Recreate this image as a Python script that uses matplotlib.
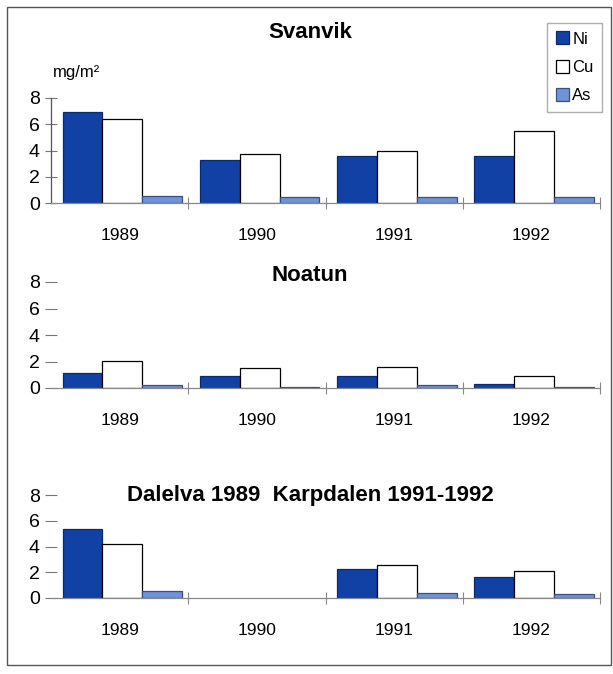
import numpy as np
import matplotlib
matplotlib.use("Agg")
import matplotlib.pyplot as plt
from matplotlib.patches import Patch, Rectangle

plt.rcParams['font.family'] = ['Liberation Sans', 'DejaVu Sans']

# ------------------------------- DATA ---------------------------------------
years = ['1989', '1990', '1991', '1992']

svanvik_ni = [6.9, 3.25, 3.6, 3.6]
svanvik_cu = [6.4, 3.7, 4.0, 5.45]
svanvik_as = [0.55, 0.45, 0.45, 0.45]

noatun_ni = [1.15, 0.9, 0.9, 0.3]
noatun_cu = [2.05, 1.5, 1.6, 0.9]
noatun_as = [0.25, 0.1, 0.2, 0.1]

# Dalelva 1989, Karpdalen 1991-1992 (no data for 1990)
karp_ni = [5.35, np.nan, 2.25, 1.6]
karp_cu = [4.2, np.nan, 2.55, 2.1]
karp_as = [0.55, np.nan, 0.35, 0.3]

titles = ['Svanvik', 'Noatun', 'Dalelva 1989  Karpdalen 1991-1992']
series = ['Ni', 'Cu', 'As']

# ------------------------------- STYLE --------------------------------------
NI_COLOR = '#1241a6'
CU_COLOR = 'white'
AS_COLOR = '#6f93d8'
colors = [NI_COLOR, CU_COLOR, AS_COLOR]
edges = ['#0a2a70', 'black', '#3a4f80']

W, H = 613, 674
fig = plt.figure(figsize=(W / 100, H / 100), dpi=100)

# panel rects in pixels: (y of zero line, y of 8 line)
panels = [(203, 98), (388, 282), (598, 495)]
title_y = [33, 275, 495]
data = [
    (svanvik_ni, svanvik_cu, svanvik_as),
    (noatun_ni, noatun_cu, noatun_as),
    (karp_ni, karp_cu, karp_as),
]

x_left, x_right = 51, 600
x = np.arange(len(years))
bw = 0.29

for i, ((y0, y8), vals) in enumerate(zip(panels, data)):
    ax = fig.add_axes([x_left / W, 1 - y0 / H, (x_right - x_left) / W, (y0 - y8) / H])
    for k, v in enumerate(vals):
        ax.bar(x + (k - 1) * bw + 0.02, v, width=bw, color=colors[k],
               edgecolor=edges[k], linewidth=0.9)
    ax.set_xlim(-0.5, len(years) - 0.5)
    ax.set_ylim(0, 8)
    ax.set_yticks([0, 2, 4, 6, 8])
    ax.set_xticks(x)
    ax.set_xticklabels(years, fontsize=12.5)
    ax.set_xticks(np.arange(len(years)) + 0.5, minor=True)
    ax.tick_params(axis='x', which='major', length=0, pad=18)
    ax.tick_params(axis='x', which='minor', length=8, direction='inout',
                   color='#888888', width=0.8)
    ax.tick_params(axis='y', labelsize=14, length=8, direction='inout',
                   color='#777777', width=0.8, pad=4)
    for s in ['top', 'right']:
        ax.spines[s].set_visible(False)
    ax.spines['bottom'].set_color('#888888')
    ax.spines['bottom'].set_linewidth(0.9)
    if i == 0:
        ax.spines['left'].set_color('#555555')
        ax.spines['left'].set_linewidth(0.9)
    else:
        ax.spines['left'].set_visible(False)
    ax.patch.set_alpha(0)

    fig.text(310 / W, 1 - title_y[i] / H, titles[i], ha='center', va='center',
             fontsize=16, fontweight='bold')

# unit label
fig.text(53 / W, 1 - 73 / H, 'mg/m²', ha='left', va='center', fontsize=12)

# legend
handles = [Patch(facecolor=colors[k], edgecolor=edges[k], linewidth=0.9, label=series[k])
           for k in range(3)]
fig.legend(handles=handles, loc='upper right', bbox_to_anchor=(602 / W, 1 - 23 / H),
           fontsize=12, frameon=True, fancybox=False, edgecolor='#999999',
           handlelength=0.8, handleheight=0.8, handletextpad=0.2,
           labelspacing=0.8, borderpad=0.5, borderaxespad=0)

# outer frame
fig.patches.append(Rectangle((7 / W, 1 - 665 / H), (611 - 7) / W, (665 - 7) / H,
                             transform=fig.transFigure, fill=False,
                             edgecolor='#555555', linewidth=1.0))

fig.savefig('out.png', dpi=100)
